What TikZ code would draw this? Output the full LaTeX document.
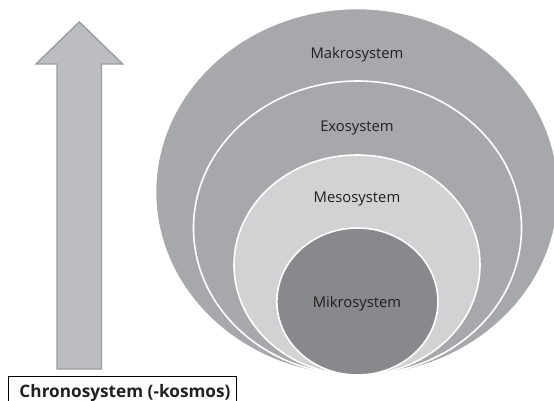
\documentclass[tikz,border=0pt]{standalone}
\usepackage{fontspec}
\setmainfont{Open Sans}
\usetikzlibrary{shapes.geometric}
\definecolor{makro}{HTML}{A7A8AB}
\definecolor{meso}{HTML}{D1D2D4}
\definecolor{mikro}{HTML}{88898C}
\definecolor{arrfill}{HTML}{BCBDC0}
\definecolor{arrline}{HTML}{9B9CA0}
\definecolor{txt}{HTML}{231F20}
\tikzset{
  sys/.style={ellipse, draw=white, line width=1.6pt, inner sep=0pt, outer sep=0pt},
  lbl/.style={anchor=base, text=txt, font=\fontsize{14.8}{17}\selectfont, inner sep=0pt},
  timearrow/.style={fill=arrfill, draw=arrline, line width=1.4pt, line join=miter},
  chronobox/.style={draw=black, line width=0.8pt, fill=white}
}
\begin{document}
\begin{tikzpicture}[x=1pt, y=-1pt]
\clip (0,0) rectangle (554,400);
\fill[white] (0,0) rectangle (554,400);
% nested systems
\node[sys, fill=makro, minimum width=403pt, minimum height=367pt] (makro) at (357,192) {};
\node[sys, fill=makro, minimum width=328pt, minimum height=294pt] (exo) at (357.5,228) {};
\node[sys, fill=meso, minimum width=246pt, minimum height=220pt] (meso) at (357,265) {};
\node[sys, fill=mikro, minimum width=161pt, minimum height=147pt] (mikro) at (357.4,301.5) {};
\node[lbl] (lmakro) at (357,58.3) {Makrosystem};
\node[lbl] (lexo) at (357,131) {Exosystem};
\node[lbl] (lmeso) at (357,202.3) {Mesosystem};
\node[lbl] (lmikro) at (357,307.7) {Mikrosystem};
% time arrow
\draw[timearrow] (57,369) -- (57,64) -- (36,64) -- (79.3,22) -- (122.6,64) -- (101.5,64) -- (101.5,369) -- cycle;
% chronosystem box
\draw[chronobox] (8.3,376.7) rectangle (236.7,404);
\node[anchor=base, text=txt, font=\bfseries\fontsize{17.2}{20}\selectfont, inner sep=0pt] (chrono) at (125,397) {Chronosystem (-kosmos)};
\end{tikzpicture}
\end{document}
